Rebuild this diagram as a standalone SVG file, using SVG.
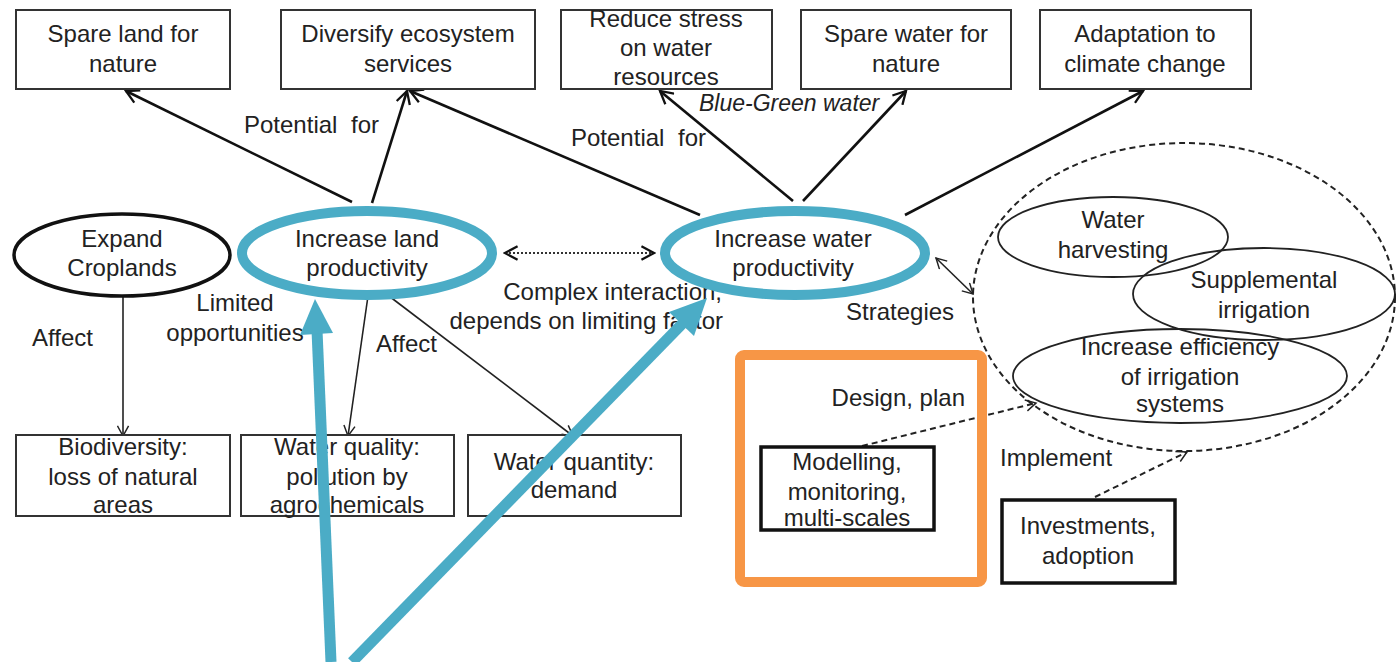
<svg xmlns="http://www.w3.org/2000/svg" width="1396" height="662" viewBox="0 0 1396 662">
<style>
text{font-family:"Liberation Sans",Arial,sans-serif;font-size:24px;fill:#222;}
.c{text-anchor:middle;}
.e{text-anchor:end;}
.box{fill:#fff;stroke:#333;stroke-width:2;}
.tbox{fill:#fff;stroke:#111;stroke-width:3.5;}
.ell{fill:#fff;stroke:#222;stroke-width:1.8;}
.thick{fill:none;stroke:#111;stroke-width:2.6;}
.thin{fill:none;stroke:#222;stroke-width:1.6;}
.dot{fill:none;stroke:#333;stroke-width:2;stroke-dasharray:2 2;}
.dash{fill:none;stroke:#222;stroke-width:2;stroke-dasharray:6 4;}
.blue{stroke:#4BACC6;fill:none;}
</style>
<defs>
<marker id="ah" viewBox="0 0 14 14" refX="12" refY="7" markerWidth="16" markerHeight="16" markerUnits="userSpaceOnUse" orient="auto-start-reverse">
<path d="M1,1 L12,7 L1,13" fill="none" stroke="#111" stroke-width="2"/>
</marker>
<marker id="ahs" viewBox="0 0 14 14" refX="12" refY="7" markerWidth="13" markerHeight="13" markerUnits="userSpaceOnUse" orient="auto-start-reverse">
<path d="M1,1 L12,7 L1,13" fill="none" stroke="#222" stroke-width="1.6"/>
</marker>
</defs>
<rect width="1396" height="662" fill="#fff"/>

<g id="connectors">
<line class="thick" x1="352" y1="202" x2="126" y2="91" marker-end="url(#ah)"/>
<line class="thick" x1="372" y1="203" x2="407" y2="91" marker-end="url(#ah)"/>
<line class="thick" x1="700" y1="215" x2="410" y2="91" marker-end="url(#ah)"/>
<line class="thick" x1="793" y1="201" x2="660" y2="91" marker-end="url(#ah)"/>
<line class="thick" x1="803" y1="201" x2="906" y2="91" marker-end="url(#ah)"/>
<line class="thick" x1="905" y1="215" x2="1143" y2="91" marker-end="url(#ah)"/>
<line class="dot" x1="505" y1="253" x2="654" y2="253" marker-start="url(#ah)" marker-end="url(#ah)"/>
<line class="thin" x1="936" y1="258" x2="973" y2="294" marker-start="url(#ahs)" marker-end="url(#ahs)"/>
<line class="thin" x1="123" y1="297" x2="123" y2="436" marker-end="url(#ahs)"/>
<line class="thin" x1="368" y1="296" x2="348" y2="436" marker-end="url(#ahs)"/>
<line class="thin" x1="385" y1="293" x2="573" y2="436" marker-end="url(#ahs)"/>
<line class="dash" x1="862" y1="446" x2="1036" y2="403" marker-end="url(#ahs)"/>
<line class="dash" x1="1095" y1="497" x2="1187" y2="452" marker-end="url(#ahs)"/>
</g>

<g id="spare-land"><rect class="box" x="16" y="10" width="214" height="79"/><text class="c" x="123" y="42">Spare land for</text><text class="c" x="123" y="72">nature</text></g>
<g id="diversify"><rect class="box" x="281" y="10" width="254" height="79"/><text class="c" x="408" y="42">Diversify ecosystem</text><text class="c" x="408" y="72">services</text></g>
<g id="reduce-stress"><rect class="box" x="561" y="10" width="211" height="79"/><text class="c" x="666" y="27">Reduce stress</text><text class="c" x="666" y="56">on water</text><text class="c" x="666" y="85">resources</text></g>
<g id="spare-water"><rect class="box" x="801" y="10" width="210" height="79"/><text class="c" x="906" y="42">Spare water for</text><text class="c" x="906" y="72">nature</text></g>
<g id="adaptation"><rect class="box" x="1040" y="10" width="211" height="79"/><text class="c" x="1145" y="42">Adaptation to</text><text class="c" x="1145" y="72">climate change</text></g>

<g id="labels">
<text x="244" y="133" word-spacing="7">Potential for</text>
<text x="571" y="146" word-spacing="7">Potential for</text>
<text x="699" y="111" style="font-size:23px;font-style:italic">Blue-Green water</text>
<text class="e" x="722" y="300">Complex interaction,</text>
<text class="e" x="723" y="329">depends on limiting factor</text>
<text class="c" x="235" y="311">Limited</text>
<text class="c" x="235" y="341">opportunities</text>
<text x="32" y="346">Affect</text>
<text x="376" y="352">Affect</text>
<text x="846" y="320">Strategies</text>
<text class="e" x="965" y="406">Design, plan</text>
<text x="1000" y="466">Implement</text>
</g>

<g id="expand-croplands"><ellipse cx="122" cy="255" rx="108" ry="41" fill="#fff" stroke="#111" stroke-width="3.5"/><text class="c" x="122" y="247">Expand</text><text class="c" x="122" y="276">Croplands</text></g>
<g id="land-productivity"><ellipse cx="367" cy="253" rx="125" ry="42" fill="#fff" stroke="#4BACC6" stroke-width="10"/><text class="c" x="367" y="247">Increase land</text><text class="c" x="367" y="276">productivity</text></g>
<g id="water-productivity"><ellipse cx="795" cy="253" rx="130" ry="42" fill="#fff" stroke="#4BACC6" stroke-width="10"/><text class="c" x="793" y="247">Increase water</text><text class="c" x="793" y="276">productivity</text></g>

<g id="strategies-group"><ellipse cx="1184" cy="297" rx="211" ry="154" class="dash"/></g>
<g id="water-harvesting"><ellipse class="ell" cx="1113" cy="237" rx="115" ry="40" fill-opacity="0"/><text class="c" x="1113" y="228">Water</text><text class="c" x="1113" y="258">harvesting</text></g>
<g id="supplemental"><ellipse class="ell" cx="1264" cy="294" rx="131" ry="46" fill-opacity="0"/><text class="c" x="1264" y="288">Supplemental</text><text class="c" x="1264" y="318">irrigation</text></g>
<g id="efficiency"><ellipse class="ell" cx="1180" cy="376" rx="167" ry="47" fill-opacity="0"/><text class="c" x="1180" y="355">Increase efficiency</text><text class="c" x="1180" y="385">of irrigation</text><text class="c" x="1180" y="412">systems</text></g>

<g id="biodiversity"><rect class="box" x="16" y="435" width="214" height="81"/><text class="c" x="123" y="455">Biodiversity:</text><text class="c" x="123" y="485">loss of natural</text><text class="c" x="123" y="513">areas</text></g>
<g id="water-quality"><rect class="box" x="241" y="435" width="213" height="81"/><text class="c" x="347" y="455">Water quality:</text><text class="c" x="347" y="485">pollution by</text><text class="c" x="347" y="513">agrochemicals</text></g>
<g id="water-quantity"><rect class="box" x="468" y="435" width="213" height="81"/><text class="c" x="574" y="470">Water quantity:</text><text class="c" x="574" y="498">demand</text></g>

<g id="modelling"><rect class="tbox" x="761" y="447" width="173" height="83"/><text class="c" x="847" y="470">Modelling,</text><text class="c" x="847" y="500">monitoring,</text><text class="c" x="847" y="526">multi-scales</text></g>
<g id="investments"><rect class="tbox" x="1002" y="500" width="173" height="83"/><text class="c" x="1088" y="534">Investments,</text><text class="c" x="1088" y="564">adoption</text></g>

<g id="highlight-box"><rect x="740" y="355" width="242" height="227" rx="4" fill="none" stroke="#F79646" stroke-width="10"/></g>

<g id="highlight-arrows">
<line class="blue" x1="331" y1="662" x2="317" y2="330" stroke-width="11"/>
<polygon points="315,299 300,335 333,333" fill="#4BACC6"/>
<line class="blue" x1="352" y1="662" x2="684" y2="322" stroke-width="11"/>
<polygon points="707,298 669,312 694,336" fill="#4BACC6"/>
</g>
</svg>
